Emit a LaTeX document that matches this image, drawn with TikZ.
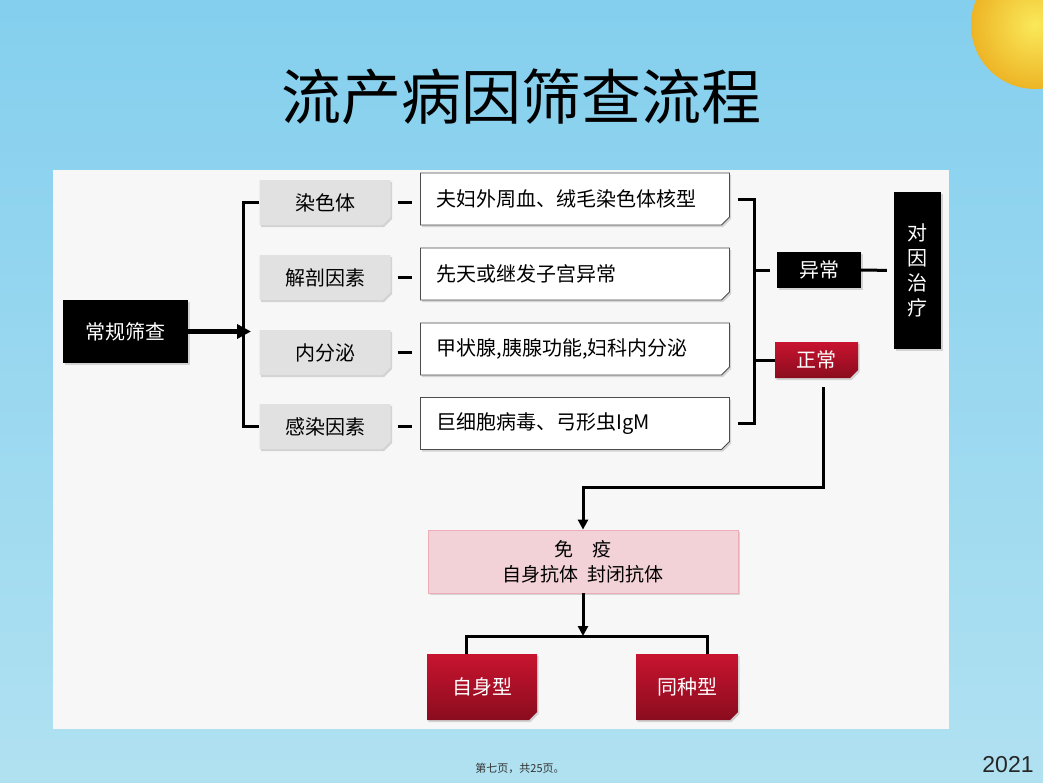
\documentclass[tikz,border=0pt]{standalone}
\usepackage{fontspec}
\setmainfont{Liberation Sans}
\newfontfamily\cjk{Noto Sans CJK SC}
\usetikzlibrary{shapes.misc,calc,arrows.meta,shadows,shadings}
\definecolor{sky1}{HTML}{84CFEE}
\definecolor{sky2}{HTML}{B0E1F1}
\definecolor{paper1}{HTML}{F7F7F7}
\definecolor{gray1}{HTML}{E1E1E1}
\definecolor{red1}{HTML}{C8142F}
\definecolor{red2}{HTML}{8A0C1E}
\definecolor{pink1}{HTML}{F2D1D7}
\definecolor{sun1}{HTML}{FAE95A}
\definecolor{sun2}{HTML}{EDB526}

\tikzset{
  boxbase/.style={font=\cjk\fontsize{20}{25}\selectfont, inner sep=0pt},
  ear/.style={chamfered rectangle, chamfered rectangle corners=south east,
    chamfered rectangle xsep=4pt, chamfered rectangle ysep=4pt},
  soft/.style={drop shadow={opacity=0.3, shadow xshift=1.5pt, shadow yshift=-2pt}},
  blackbox/.style={boxbase, fill=black, text=white, soft},
  graybox/.style={boxbase, ear, fill=gray1, minimum width=131, minimum height=45, soft},
  notebox/.style={boxbase, ear, fill=white, draw=black!70, line width=0.8pt,
    text width=277, align=left, inner xsep=12pt, minimum height=52, soft},
  redbox/.style={boxbase, ear, top color=red1, bottom color=red2, text=white, soft},
  pinkbox/.style={boxbase, fill=pink1, draw=red1!35, line width=0.8pt, align=center, soft},
  link/.style={line width=3pt},
  arr/.style={link, -{Triangle[length=10pt,width=10pt]}},
}

\begin{document}
\begin{tikzpicture}[x=1pt,y=-1pt]

\useasboundingbox (0,0) rectangle (1043,782);
\shade[top color=sky1, bottom color=sky2] (0,0) rectangle (1043,782);
\begin{scope}
\clip (0,0) rectangle (1043,782);
\shade[inner color=sun1, outer color=sun2] (1035,25) circle (64);
\end{scope}
\fill[paper1] (53,170) rectangle (949,729);

\node[font=\cjk\fontsize{60}{60}\selectfont] (title) at (521,97) {流产病因筛查流程};

\node[blackbox, minimum width=125, minimum height=63] (screen) at (125.5,331.5) {常规筛查};
\coordinate (fork) at (251,331.5);

\node[graybox] (chrom) at (325,202.5) {染色体};
\node[graybox] (anat) at (325,277.5) {解剖因素};
\node[graybox] (endo) at (325,352.5) {内分泌};
\node[graybox] (infe) at (325,426.5) {感染因素};

\node[notebox] (chromnote) at (575,199) {夫妇外周血、绒毛染色体核型};
\node[notebox] (anatnote) at (575,274) {先天或继发子宫异常};
\node[notebox] (endonote) at (575,349) {甲状腺,胰腺功能,妇科内分泌};
\node[notebox] (infenote) at (575,423.5) {巨细胞病毒、弓形虫IgM};

\node[blackbox, minimum width=84, minimum height=36] (abn) at (819,270) {异常};
\node[blackbox, minimum width=47, minimum height=157, align=center, font=\cjk\fontsize{20}{25}\selectfont] (cure) at (917.5,270.5) {对\\因\\治\\疗};
\node[redbox, minimum width=83, minimum height=36] (norm) at (816.5,360) {正常};

\node[pinkbox, minimum width=310, minimum height=63, font=\cjk\fontsize{19}{25}\selectfont] (immu) at (583,561.5) {免\quad 疫\\自身抗体\enspace 封闭抗体};
\coordinate (split) at (583,636);
\node[redbox, minimum width=110, minimum height=66] (auto) at (482,687) {自身型};
\node[redbox, minimum width=102, minimum height=66] (allo) at (687,687) {同种型};

% left side
\draw[line width=5pt, -{Triangle[length=14pt,width=14pt]}] (screen.east) -- (fork);
\draw[link] (chrom.west) -- ++(-16,0) |- (infe.west);
\foreach \g/\n in {chrom/chromnote, anat/anatnote, endo/endonote, infe/infenote}
  \draw[link, shorten <=7pt, shorten >=8pt] (\g.east) -- (\g.east -| \n.west);

% right side
\draw[link, shorten <=8pt, shorten >=8pt] (chromnote.east) -- ++(25,0) |- (infenote.east);
\draw[link, shorten <=7pt] (abn.west) -- ++(-22,0);
\draw[link] (norm.west) -- ++(-20,0);
\draw[link, shorten >=7pt] (abn.east) -- (cure.west);
\draw[arr, shorten <=9pt] ([xshift=6.5pt]norm.south) -- ++(0,109) -| (immu.north);

% bottom
\draw[arr] (immu.south) -- (split);
\draw[link] ([xshift=-16pt]auto.north) |- (split) -| ([xshift=20pt]allo.north);

\node[font=\cjk\fontsize{11}{11}\selectfont, text=black!80] (page) at (520,768) {第七页，共25页。};
\node[font=\fontsize{23}{23}\selectfont, text=black!85] (year) at (1008,765) {2021};

\end{tikzpicture}
\end{document}
